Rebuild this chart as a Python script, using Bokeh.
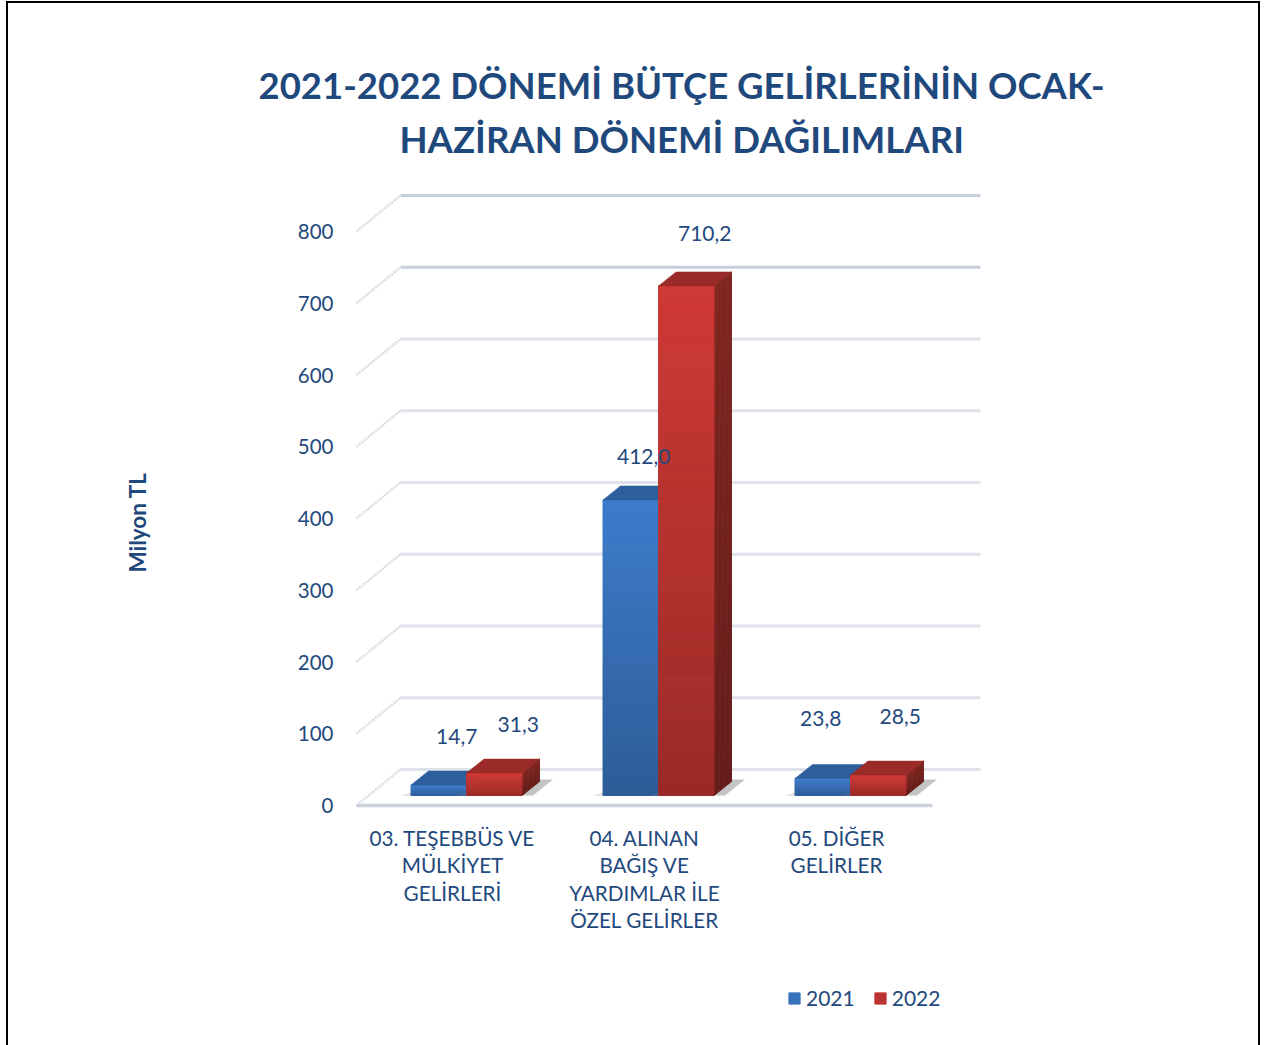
from bokeh.plotting import figure
from bokeh.embed import file_html
from bokeh.resources import INLINE
from bokeh.core.properties import value
from bokeh.models import (ColumnDataSource, FixedTicker, InlineStyleSheet,
                          Legend, LegendItem, Title)

TITLE_LINE_1 = "2021-2022 DÖNEMİ BÜTÇE GELİRLERİNİN OCAK-"
TITLE_LINE_2 = "HAZİRAN DÖNEMİ  DAĞILIMLARI"
CATEGORIES = ["03. TEŞEBBÜS VE\nMÜLKİYET\nGELİRLERİ",
              "04. ALINAN\nBAĞIŞ VE\nYARDIMLAR İLE\nÖZEL GELİRLER",
              "05. DİĞER\nGELİRLER"]
SERIES = ["2021", "2022"]
V2021 = [14.7, 412.0, 23.8]
V2022 = [31.3, 710.2, 28.5]
LABELS_2021 = ["14,7", "412,0", "23,8"]
LABELS_2022 = ["31,3", "710,2", "28,5"]
YTICKS = [0, 100, 200, 300, 400, 500, 600, 700, 800]
AXIS_LABEL = "Milyon TL"

# ---- layout / style (pixels) ----
FONT = "Lato"
TEXT = "#1F497D"
W, H = 1264, 1045
F_L, F_T, F_B = 356, 164, 805   # left end of the floor, top of the plot area, floor line
PX_X = 192.0
PX_Y = 0.7175
D_X, D_Y = 44, 36
BASE_X, BASE_Y = 14, 10
BAR_W = 55.5
BAR_DX, BAR_DY = 17.5, 14
LAB_OFF = {"2021": [(18, 48), (13, 43), (-2, 60)], "2022": [(24, 48.5), (18.5, 52), (22, 59)]}


def ux(px):
    return px / PX_X


def uy(px):
    return px / PX_Y


def mix(a, b, t):
    ca = [int(a[i:i + 2], 16) for i in (1, 3, 5)]
    cb = [int(b[i:i + 2], 16) for i in (1, 3, 5)]
    return "#%02x%02x%02x" % tuple(round(x + (y - x) * t) for x, y in zip(ca, cb))


p = figure(width=W, height=H, output_backend="svg", toolbar_location=None,
           x_range=(-0.5 - ux(F_L), -0.5 + ux(W - F_L)), y_range=(uy(F_B - H), uy(F_B - F_T)),
           min_border_left=0, min_border_right=0, min_border_top=F_T, min_border_bottom=0,
           outline_line_color=None, background_fill_color="white", border_fill_color="white")
p.xgrid.visible = False
p.ygrid.visible = False
p.stylesheets = [InlineStyleSheet(css=":host::after {content:''; position:absolute; left:6px; top:1px; "
                                      "width:1250px; height:1044px; border:2px solid black; border-bottom:none; "
                                      "pointer-events:none; box-sizing:content-box;}")]

for line, left, standoff in ((TITLE_LINE_2, 399, 8), (TITLE_LINE_1, 258, 8)):
    p.add_layout(Title(text=line, align="left", offset=left, text_font=FONT, text_font_size="36.5px",
                       text_font_style="bold", text_color=TEXT, standoff=standoff), "above")

xa = p.xaxis[0]
xa.fixed_location = 0
xa.ticker = FixedTicker(ticks=list(range(len(CATEGORIES))))
xa.major_label_overrides = {i: c for i, c in enumerate(CATEGORIES)}
xa.major_label_text_font = FONT
xa.major_label_text_font_size = "20.7px"
xa.major_label_text_color = TEXT
xa.major_label_text_line_height = 1.15
xa.major_label_standoff = 14
xa.major_tick_line_color = None
xa.minor_tick_line_color = None
xa.axis_line_color = None

ya = p.yaxis[0]
ya.fixed_location = -0.5
ya.ticker = FixedTicker(ticks=YTICKS)
ya.major_label_text_font = FONT
ya.major_label_text_font_size = "20.5px"
ya.major_label_text_color = TEXT
ya.major_label_standoff = 17
ya.major_tick_line_color = None
ya.minor_tick_line_color = None
ya.axis_line_color = None

x0, x_back = -0.5, -0.5 + ux(D_X)
x_back_end = x_back + ux(980 - 400)
x_front_end = -0.5 + len(CATEGORIES)
dyv = uy(D_Y)

# back wall gridlines
for v in YTICKS:
    strong = v >= 700
    p.line([x_back, x_back_end], [v + dyv, v + dyv], line_width=3,
           line_color="#C6CFDA" if strong else "#DDE2EB")
    p.line([x0, x_back], [v, v + dyv], line_width=2.5, line_color="#D9DEE6", line_dash="2 1")

# floor front edge
p.line([x0, x_front_end], [0, 0], line_width=3.5, line_color="#CBD2DC")

B_TOP, B_BOT = "#3E7CCB", "#2D5C98"
R_TOP, R_BOT = "#CF3A36", "#9A2A27"
S_TOP, S_BOT = "#80251F", "#641C1A"
B_FACE, R_FACE = "#2D5F9C", "#9A2B29"


def draw_bar(i, s, v, ctop, cbot, cface):
    xl = i + ux(BASE_X) + (ux(-BAR_W) if s == 0 else 0)
    xr = xl + ux(BAR_W)
    y0 = uy(BASE_Y)
    y1 = y0 + v
    ddx, ddy = ux(BAR_DX), uy(BAR_DY)
    N = max(6, int(v * PX_Y / 2))
    # shadow on the floor
    p.patch([xr, xr + ux(11), xr + ux(31), xr + ux(17)], [y0, y0, y0 + uy(16), y0 + uy(16)],
            fill_color="#555555", fill_alpha=0.35, line_color=None)
    p.patch([xl - ux(10), xl, xl, xl - ux(3)], [y0, y0, y0 + uy(3), y0 + uy(2)],
            fill_color="#888888", fill_alpha=0.3, line_color=None)
    tops = [y0 + v * (k + 1) / N for k in range(N)]
    bots = [y0 + v * k / N for k in range(N)]
    cols = [mix(cbot, ctop, (k + 0.5) / N) for k in range(N)]
    sidec = [mix(S_BOT, S_TOP, (k + 0.5) / N) for k in range(N)]
    if s == 1:
        p.patches([[xr, xr + ddx, xr + ddx, xr] for _ in range(N)],
                  [[b, b + ddy, t + ddy, t] for b, t in zip(bots, tops)],
                  fill_color=sidec, line_color=sidec, line_width=1)
    p.quad(left=[xl] * N, right=[xr] * N, bottom=bots, top=tops,
           fill_color=cols, line_color=cols, line_width=1)
    p.patch([xl, xr, xr + ddx, xl + ddx], [y1, y1, y1 + ddy, y1 + ddy],
            fill_color=cface, line_color=cface, line_width=0.5)


for i, v in enumerate(V2021):
    draw_bar(i, 0, v, B_TOP, B_BOT, B_FACE)
    draw_bar(i, 1, V2022[i], R_TOP, R_BOT, R_FACE)

# data labels, placed from each bar's value
lx, ly, lt = [], [], []
for s, (name, vals, labs) in enumerate(zip(SERIES, (V2021, V2022), (LABELS_2021, LABELS_2022))):
    for i, (v, l) in enumerate(zip(vals, labs)):
        off = LAB_OFF[name][i]
        lx.append(i + ux(BASE_X) + ux(-BAR_W / 2 if s == 0 else BAR_W / 2) + ux(off[0]))
        ly.append(uy(BASE_Y) + v + uy(off[1]))
        lt.append(l)
p.text(x="x", y="y", text="t", source=ColumnDataSource(dict(x=lx, y=ly, t=lt)),
       text_font=value(FONT), text_font_size="21px", text_color=TEXT,
       text_align="center", text_baseline="middle")

# axis title
p.text(x=[x0 - ux(F_L - 137)], y=[uy(F_B - 522)], text=[AXIS_LABEL], angle=90, angle_units="deg",
       text_font=value(FONT), text_font_style="bold", text_font_size="22.5px", text_color=TEXT,
       text_align="center", text_baseline="middle")

# legend
NAN = float("nan")
r1 = p.quad(left=[NAN], right=[NAN], bottom=[NAN], top=[NAN], fill_color="#3872BC", line_color="#3872BC")
r2 = p.quad(left=[NAN], right=[NAN], bottom=[NAN], top=[NAN], fill_color="#BC3431", line_color="#BC3431")
leg = Legend(items=[LegendItem(label=SERIES[0], renderers=[r1]), LegendItem(label=SERIES[1], renderers=[r2])],
             orientation="horizontal", location=(787, H - 1010), glyph_width=14, glyph_height=14,
             label_text_font=FONT, label_text_font_size="21px", label_text_color=TEXT, label_standoff=5,
             spacing=18, padding=0, margin=0, border_line_color=None, background_fill_alpha=0)
p.add_layout(leg, "center")

open("out.html", "w").write(file_html(p, INLINE))
